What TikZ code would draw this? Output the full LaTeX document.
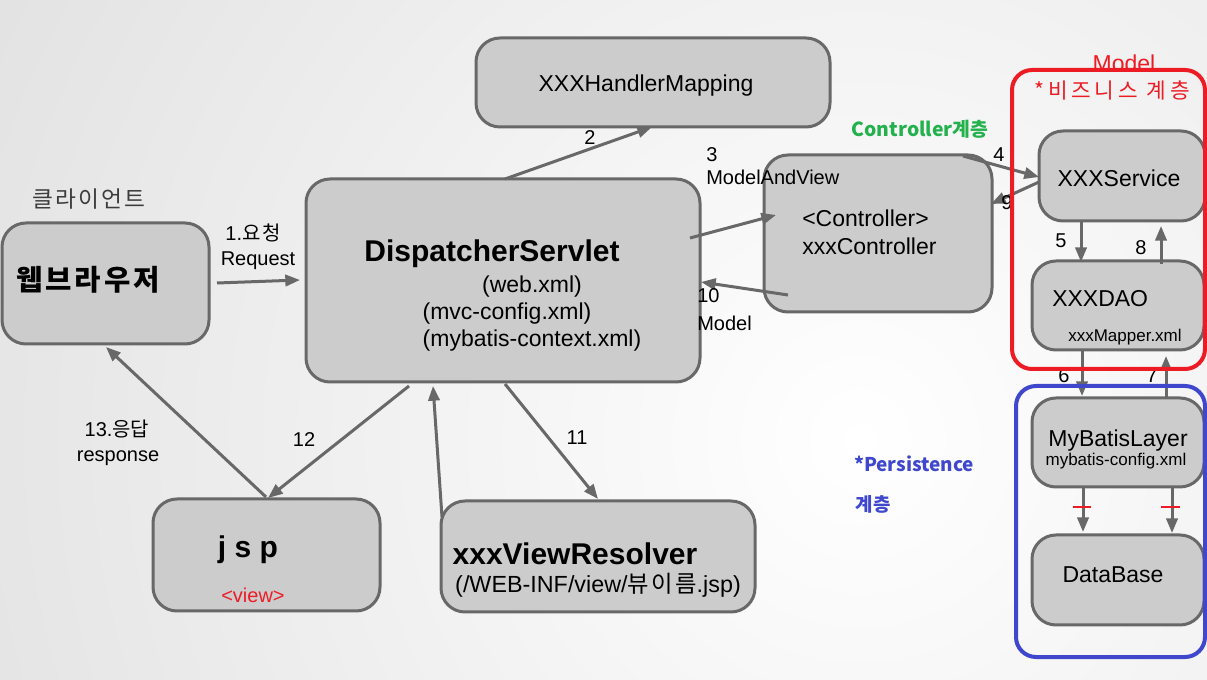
\documentclass[tikz,border=0pt]{standalone}
\usepackage{fontspec}
\setmainfont{Liberation Sans}
\newfontfamily\kr{Noto Sans CJK KR}
\usetikzlibrary{arrows.meta}
\definecolor{boxfill}{RGB}{204,204,204}
\definecolor{boxline}{RGB}{104,104,104}
\definecolor{mred}{RGB}{237,28,36}
\definecolor{mblue}{RGB}{63,72,204}
\definecolor{cgreen}{RGB}{34,177,76}
\definecolor{bgout}{RGB}{214,214,214}
\newcommand\fsz[1]{\fontsize{#1}{#1}\selectfont}
\begin{document}
\begin{tikzpicture}[x=0.75pt,y=-0.75pt,
  box/.style={draw=boxline, fill=boxfill, line width=2.25pt, rounded corners=18pt, inner sep=0pt},
  frame/.style={line width=3pt, rounded corners=15pt, inner sep=0pt},
  arr/.style={draw=boxline, line width=2.25pt, -{Triangle[length=11pt,width=8.5pt]}},
  lbl/.style={inner sep=0pt, anchor=base, text=black, font=\fsz{17.25pt}},
  sml/.style={lbl, font=\fsz{15pt}},
  tiny/.style={lbl, font=\fsz{12.75pt}},
  big/.style={lbl, font=\fsz{22.5pt}\bfseries},
  krt/.style={inner sep=0pt, anchor=center}
]
\useasboundingbox (0,0) rectangle (1207,680);
\begin{scope}
  \clip (0,0) rectangle (1207,680);
  \fill[bgout] (0,0) rectangle (1207,680);
  \shade[inner color=white, outer color=bgout] (860,440) circle (1400);
\end{scope}

% boxes
\node[box, minimum width=265.5pt, minimum height=66.75pt] (hm) at (653,82.5) {};
\node[box, minimum width=155.25pt, minimum height=90.75pt] (br) at (105.5,283.5) {};
\node[box, minimum width=295.5pt, minimum height=152.25pt] (ds) at (503,280.5) {};
\node[box, minimum width=171pt, minimum height=117.75pt] (ct) at (878,233.5) {};
\node[box, minimum width=124.5pt, minimum height=67.5pt] (sv) at (1122,176) {};
\node[box, minimum width=129pt, minimum height=66.75pt] (dao) at (1118,305.5) {};
\node[box, minimum width=129pt, minimum height=66.75pt] (mb) at (1118,442.5) {};
\node[box, minimum width=129pt, minimum height=67.5pt] (db) at (1118,580) {};
\node[box, minimum width=170.25pt, minimum height=84pt] (jsp) at (266.5,555) {};
\node[box, minimum width=235.5pt, minimum height=83.25pt] (vr) at (598,556.5) {};

% arrow end points
\coordinate (a1s) at (217,283); \coordinate (a1e) at (300,280);
\coordinate (a2s) at (505,179); \coordinate (a2e) at (652,127);
\coordinate (a3s) at (690,238); \coordinate (a3e) at (776,215);
\coordinate (a10s) at (788,295); \coordinate (a10e) at (701,282);
\coordinate (a4s) at (963,156); \coordinate (a4e) at (1039,177);
\coordinate (a9s) at (1039,182); \coordinate (a9e) at (991,204);
\coordinate (a5s) at (1081,221); \coordinate (a5e) at (1081,262);
\coordinate (a8s) at (1161,264); \coordinate (a8e) at (1161,226);
\coordinate (a6s) at (1082,350); \coordinate (a6e) at (1082,396);
\coordinate (a7s) at (1166,398); \coordinate (a7e) at (1166,356);
\coordinate (adbs) at (1083,487); \coordinate (adbe) at (1083,532);
\coordinate (adbs2) at (1172,488); \coordinate (adbe2) at (1172,533);
\coordinate (a12s) at (409,386); \coordinate (a12e) at (268,498);
\coordinate (a13s) at (266,497); \coordinate (a13e) at (106,347);
\coordinate (a11s) at (505,384); \coordinate (a11e) at (598,499);
\coordinate (avrs) at (442,517); \coordinate (avre) at (433,386);

\draw[arr] (a1s) -- (a1e);
\draw[arr] (a2s) -- (a2e);
\draw[arr] (a3s) -- (a3e);
\draw[arr] (a10s) -- (a10e);
\draw[arr] (a4s) -- (a4e);
\draw[arr] (a9s) -- (a9e);
\draw[arr] (a5s) -- (a5e);
\draw[arr] (a8s) -- (a8e);
\draw[arr] (a6s) -- (a6e);
\draw[arr] (a7s) -- (a7e);
\draw[arr] (adbs) -- (adbe);
\draw[arr] (adbs2) -- (adbe2);
\draw[arr] (a12s) -- (a12e);
\draw[arr] (a13s) -- (a13e);
\draw[arr] (a11s) -- (a11e);
\draw[arr] (avrs) -- (avre);

% red ticks
\coordinate (rt1a) at (1073,507); \coordinate (rt1b) at (1091,507);
\coordinate (rt2a) at (1161,507); \coordinate (rt2b) at (1180,507);
\draw[mred, line width=1.6pt] (rt1a) -- (rt1b);
\draw[mred, line width=1.6pt] (rt2a) -- (rt2b);

% texts
\node[lbl] (thm) at (646,92) {XXXHandlerMapping};
\node[krt, text={rgb,255:red,60;green,60;blue,60}, font=\kr\fsz{17pt}\addfontfeature{LetterSpace=10}] (tcl) at (89,199) {클라이언트};
\node[krt, font=\kr\fsz{21.5pt}\bfseries\addfontfeature{LetterSpace=10}] (tbr) at (88,280) {웹브라우저};
\node[sml] (treq1) at (253,241) {1.{\kr\addfontfeature{LetterSpace=8} 요청}};
\node[sml] (treq2) at (258,266) {Request};
\node[big] (tds) at (492,262) {DispatcherServlet};
\node[lbl] (tds1) at (532,293) {(web.xml)};
\node[lbl] (tds2) at (507,320) {(mvc-config.xml)};
\node[lbl] (tds3) at (532,347) {(mybatis-context.xml)};
\node[sml] (t2) at (590,145) {2};
\node[sml, anchor=base west] (t3) at (706,162) {3};
\node[sml, anchor=base west] (tmav) at (706,185) {ModelAndView};
\node[lbl, anchor=base west] (tct1) at (802,227) {<Controller>};
\node[lbl, anchor=base west] (tct2) at (802,255) {xxxController};
\node[sml, anchor=base west] (t10) at (697,303) {10};
\node[sml, anchor=base west] (tmod) at (697,331) {Model};
\node[krt, text=cgreen, font=\kr\fsz{14.5pt}\bfseries] (tclay) at (920,129) {Controller계층};
\node[sml] (t4) at (999,162) {4};
\node[sml] (t9) at (1007,210) {9};
\node[lbl] (tsv) at (1119,187) {XXXService};
\node[sml] (t5) at (1061,248) {5};
\node[sml] (t8) at (1141,255) {8};
\node[lbl, anchor=base west] (tdao) at (1052,307) {XXXDAO};
\node[tiny] (tmap) at (1125,342) {xxxMapper.xml};
\node[lbl, text=mred] (tmodel) at (1124,72) {Model};
\node[krt, text=mred, font=\kr\fsz{16pt}\addfontfeature{LetterSpace=18}] (tbiz) at (1112,91) {*비즈니스 계층};
\node[sml] (t6) at (1064,383) {6};
\node[sml] (t7) at (1152,383) {7};
\node[lbl] (tmb) at (1118,447) {MyBatisLayer};
\node[tiny] (tmbc) at (1116,466) {mybatis-config.xml};
\node[lbl] (tdb) at (1113,583) {DataBase};
\node[krt, text=mblue, font=\kr\fsz{14.2pt}\bfseries] (tper) at (914,464) {*Persistence};
\node[krt, text=mblue, font=\kr\fsz{14.2pt}\bfseries] (tper2) at (873,504) {계층};
\node[sml] (t13) at (117,437) {13.{\kr 응답}};
\node[sml] (tresp) at (118,462) {response};
\node[sml] (t12) at (304,447) {12};
\node[sml] (t11) at (577,445) {11};
\node[big] (tjsp) at (248,558) {j s p};
\node[sml, text=mred] (tview) at (253,603) {<view>};
\node[big] (tvr) at (575,565) {xxxViewResolver};
\node[lbl, font=\fsz{17.5pt}] (tvr2) at (598,593) {(/WEB-INF/view/{\kr\addfontfeature{LetterSpace=10}뷰이름}.jsp)};

% frames
\node[frame, draw=mred, minimum width=144.75pt, minimum height=224.25pt] (redf) at (1108.5,219.5) {};
\node[frame, draw=mblue, minimum width=141.75pt, minimum height=203.25pt] (bluef) at (1110.5,521.5) {};
\end{tikzpicture}
\end{document}
